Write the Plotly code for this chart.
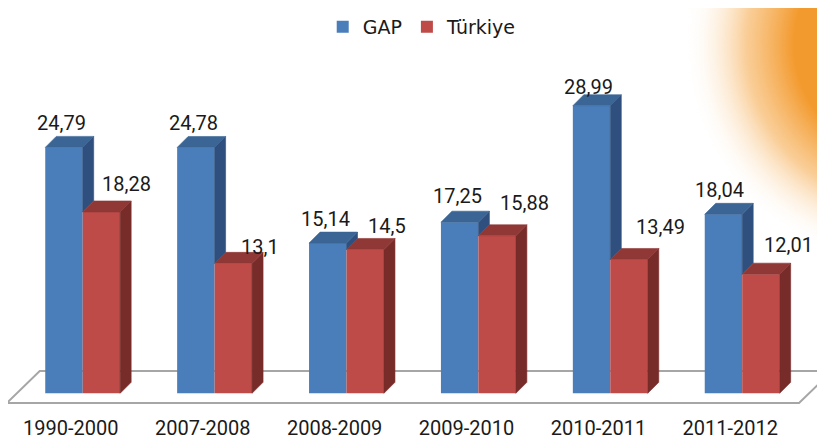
import base64
import plotly.graph_objects as go

# ---- data ----
categories = ["1990-2000", "2007-2008", "2008-2009", "2009-2010", "2010-2011", "2011-2012"]
gap_values = [24.79, 24.78, 15.14, 17.25, 28.99, 18.04]
turkiye_values = [18.28, 13.10, 14.50, 15.88, 13.49, 12.01]
series_names = ["GAP", "Türkiye"]

# ---- styling / layout constants ----
PAGE_OFF = 8              # browser default body margin
W, H = 825 - PAGE_OFF, 443 - PAGE_OFF
PX_PER_X = 131.9          # pixels per category unit
PX_PER_Y = 9.92           # pixels per value unit
BAR_W = 0.284             # bar width (category units)
DEPTH_X = 11 / PX_PER_X   # 3D depth offset
DEPTH_Y = 11 / PX_PER_Y
MARGIN_B = 33
PLOT_H = H - MARGIN_B
BASE_PX = 393.3 - PAGE_OFF          # baseline pixel (figure coords)
FIRST_GROUP_PX = 82.7 - PAGE_OFF    # first group centre pixel (figure coords)

x0 = -FIRST_GROUP_PX / PX_PER_X
x_range = [x0, x0 + W / PX_PER_X]
y0 = -(PLOT_H - BASE_PX) / PX_PER_Y
y_range = [y0, y0 + PLOT_H / PX_PER_Y]

FONT = "Roboto, 'Open Sans', sans-serif"
LEGEND_FONT = "'DejaVu Sans', Verdana, sans-serif"
TXT = "#1a1a1a"

blue_front, blue_top, blue_side = "#4A7EBB", "#3B6594", "#2F507E"
red_front, red_top, red_side = "#BE4B48", "#8F3835", "#772C2A"

# label offsets in pixels (dx, dy upwards) relative to the front-top centre of each bar
gap_label_off = [(-2, 24), (-2.5, 24.5), (-2, 24), (-2, 26), (-3.5, 18.5), (-4, 24.5)]
tur_label_off = [(25.5, 28.4), (26.5, 16), (22, 23), (27.5, 32.7), (31, 32), (28, 29.5)]

idx = list(range(len(categories)))


def fmt(v):
    s = ("%.2f" % v).rstrip("0").rstrip(".")
    return s.replace(".", ",")


def polys(list_of_pts):
    xs, ys = [], []
    for pts in list_of_pts:
        for (px, py) in pts + [pts[0]]:
            xs.append(px)
            ys.append(py)
        xs.append(None)
        ys.append(None)
    return xs, ys


fig = go.Figure()

# front faces as bars
fig.add_trace(go.Bar(x=idx, y=gap_values, width=BAR_W, offset=-BAR_W, name=series_names[0],
                     marker=dict(color=blue_front, line=dict(width=0)), hoverinfo="skip"))
fig.add_trace(go.Bar(x=idx, y=turkiye_values, width=BAR_W, offset=0, name=series_names[1],
                     marker=dict(color=red_front, line=dict(width=0)), hoverinfo="skip"))

# 3D faces
blue_tops, blue_sides, red_tops, red_sides = [], [], [], []
for i, vb, vr in zip(idx, gap_values, turkiye_values):
    blue_tops.append([(i - BAR_W, vb), (i, vb), (i + DEPTH_X, vb + DEPTH_Y), (i - BAR_W + DEPTH_X, vb + DEPTH_Y)])
    if vb > vr:
        blue_sides.append([(i, vr), (i, vb), (i + DEPTH_X, vb + DEPTH_Y), (i + DEPTH_X, vr + DEPTH_Y)])
    red_tops.append([(i, vr), (i + BAR_W, vr), (i + BAR_W + DEPTH_X, vr + DEPTH_Y), (i + DEPTH_X, vr + DEPTH_Y)])
    red_sides.append([(i + BAR_W, 0), (i + BAR_W, vr), (i + BAR_W + DEPTH_X, vr + DEPTH_Y), (i + BAR_W + DEPTH_X, DEPTH_Y)])

for pts, col in [(blue_sides, blue_side), (blue_tops, blue_top), (red_sides, red_side), (red_tops, red_top)]:
    xs, ys = polys(pts)
    fig.add_trace(go.Scatter(x=xs, y=ys, mode="lines", fill="toself", fillcolor=col,
                             line=dict(color=col, width=0.6), showlegend=False, hoverinfo="skip"))

# data labels
annotations = []
for i, v, (dx, dy) in zip(idx, gap_values, gap_label_off):
    annotations.append(dict(x=i - BAR_W / 2, y=v, text=fmt(v), showarrow=False, xshift=dx, yshift=dy,
                            xanchor="center", yanchor="middle", font=dict(family=FONT, size=20, color=TXT)))
for i, v, (dx, dy) in zip(idx, turkiye_values, tur_label_off):
    annotations.append(dict(x=i + BAR_W / 2, y=v, text=fmt(v), showarrow=False, xshift=dx, yshift=dy,
                            xanchor="center", yanchor="middle", font=dict(family=FONT, size=20, color=TXT)))

# floor (parallelogram)
n = len(categories)
floor_front, floor_back = -0.98, 2.25
floor_left = -0.576
floor_right = (n - 1) + 0.431
skew = 33 / PX_PER_X
floor_path = (f"M {floor_left},{floor_front} L {floor_right},{floor_front} "
              f"L {floor_right + skew},{floor_back} L {floor_left + skew},{floor_back} Z")

# orange glow decoration (top-right)
GS = 270
svg = (f"<svg xmlns='http://www.w3.org/2000/svg' width='{GS}' height='{GS}' viewBox='0 0 {GS} {GS}'>"
       f"<defs><radialGradient id='g' cx='{GS + 80}' cy='37' r='222' gradientUnits='userSpaceOnUse'>"
       "<stop offset='0.5' stop-color='#F39A2E' stop-opacity='1'/>"
       "<stop offset='0.72' stop-color='#F6AE55' stop-opacity='0.6'/>"
       "<stop offset='1' stop-color='#FFFFFF' stop-opacity='0'/>"
       f"</radialGradient></defs><rect width='{GS}' height='{GS}' fill='url(#g)'/></svg>")
svg_uri = "data:image/svg+xml;base64," + base64.b64encode(svg.encode()).decode()

fig.update_layout(
    width=W, height=H,
    margin=dict(l=0, r=0, t=0, b=MARGIN_B),
    paper_bgcolor="white", plot_bgcolor="rgba(0,0,0,0)",
    barmode="overlay",
    separators=",.",
    font=dict(family=FONT, size=20, color=TXT),
    xaxis=dict(range=x_range, tickmode="array", tickvals=[i - 0.09 for i in idx], ticktext=categories,
               showgrid=False, zeroline=False, showline=False, ticks="", ticklabelstandoff=4,
               tickfont=dict(family=FONT, size=20, color=TXT), fixedrange=True),
    yaxis=dict(range=y_range, visible=False, fixedrange=True),
    legend=dict(orientation="h", x=0.507, xanchor="center", y=1.0, yanchor="top",
                font=dict(family=LEGEND_FONT, size=19, color=TXT), bgcolor="rgba(0,0,0,0)",
                traceorder="normal", itemwidth=30),
    shapes=[dict(type="path", path=floor_path, xref="x", yref="y", layer="below",
                 line=dict(color="#A6A6A6", width=2), fillcolor="white")],
    annotations=annotations,
    images=[dict(source=svg_uri, xref="paper", yref="paper", x=(W - GS) / W, y=1,
                 sizex=GS / W, sizey=GS / PLOT_H, sizing="stretch", xanchor="left", yanchor="top",
                 layer="below")],
)

fig.write_html("out.html")
